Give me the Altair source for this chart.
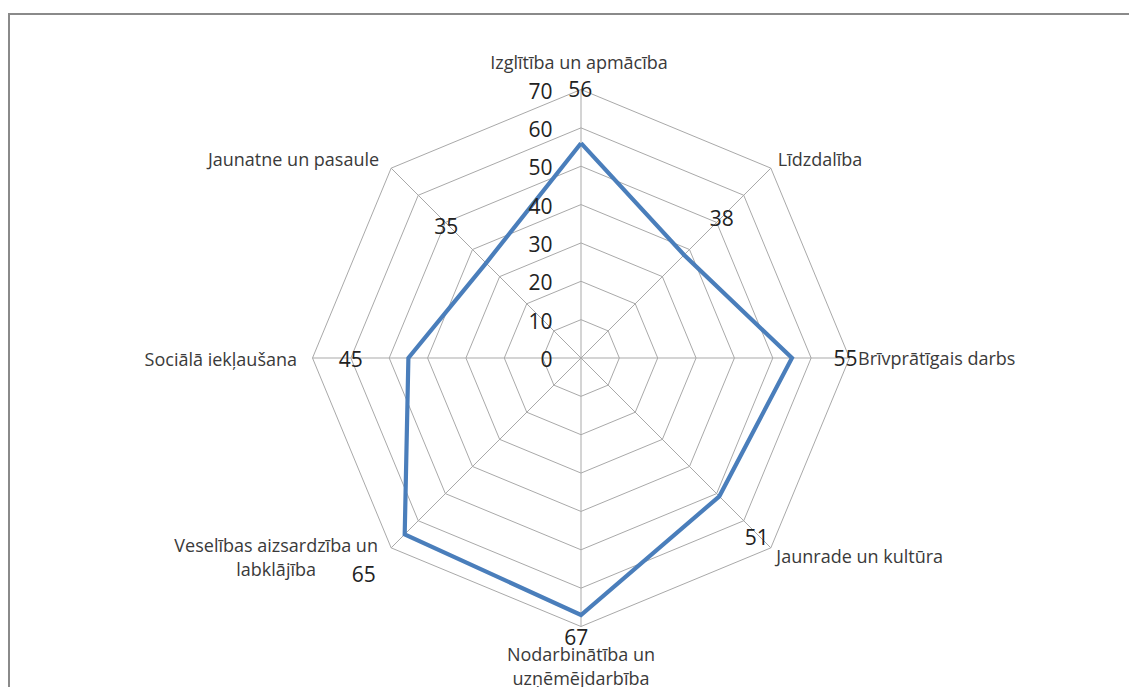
import altair as alt
import pandas as pd

# ---------------- data ----------------
categories = [
    "Izglītība un apmācība",
    "Līdzdalība",
    "Brīvprātīgais darbs",
    "Jaunrade un kultūra",
    "Nodarbinātība un\nuzņēmējdarbība",
    "Veselības aizsardzība un\nlabklājība",
    "Sociālā iekļaušana",
    "Jaunatne un pasaule",
]
values = [56, 38, 55, 51, 67, 65, 45, 35]
ticks = [0, 10, 20, 30, 40, 50, 60, 70]
rmax = 70

n = len(categories)
df = pd.DataFrame({"cat": categories, "value": values, "i": list(range(n))})
poly = pd.concat([df, df.iloc[[0]].assign(i=n)], ignore_index=True)
rings = pd.DataFrame(
    [{"t": t, "i": i} for t in ticks[1:] for i in range(n + 1)]
)
tick_df = pd.DataFrame({"t": ticks})

# ---------------- style ----------------
FONT = "Open Sans"
GRID = "#a9a9a9"
BLUE = "#4a7ebb"
LABEL_COL = "#3a3a3a"
NUM_COL = "#222222"

ANG = f"datum.i * 2 * PI / {n}"
sc = alt.Scale(domain=[-rmax, rmax], nice=False, zero=False)
X = alt.X("x:Q", scale=sc, axis=None)
Y = alt.Y("y:Q", scale=sc, axis=None)


def polar(chart, rexpr):
    return chart.transform_calculate(
        x=f"({rexpr}) * sin({ANG})", y=f"({rexpr}) * cos({ANG})"
    )


layers = []

# frame of the chart area
frame = pd.DataFrame({"a": [0]})
layers.append(
    alt.Chart(frame).mark_rule(color="#8a8a8a", strokeWidth=2).encode(
        x=alt.value(-303.5), y=alt.value(-75.5), y2=alt.value(700)
    )
)
layers.append(
    alt.Chart(frame).mark_rule(color="#8a8a8a", strokeWidth=2).encode(
        x=alt.value(-305), x2=alt.value(900), y=alt.value(-75.5)
    )
)

# rings
layers.append(
    polar(alt.Chart(rings), "datum.t")
    .mark_line(color=GRID, strokeWidth=1)
    .encode(x=X, y=Y, detail="t:N", order="i:Q")
)

# spokes
layers.append(
    alt.Chart(df)
    .transform_calculate(
        x0="0", y0="0",
        x=f"{rmax} * sin({ANG})", y=f"{rmax} * cos({ANG})",
    )
    .mark_rule(color=GRID, strokeWidth=1)
    .encode(x=alt.X("x0:Q", scale=sc, axis=None), y=alt.Y("y0:Q", scale=sc, axis=None),
            x2="x:Q", y2="y:Q")
)

# data polygon
layers.append(
    polar(alt.Chart(poly), "datum.value")
    .mark_line(color=BLUE, strokeWidth=4.2, strokeJoin="miter")
    .encode(x=X, y=Y, order="i:Q")
)

# tick labels along the top spoke
layers.append(
    alt.Chart(tick_df)
    .transform_calculate(x="0", y="datum.t")
    .mark_text(align="right", baseline="middle", dx=-28.5, dy=3,
               font=FONT, fontSize=21, color=NUM_COL)
    .encode(x=X, y=Y, text=alt.Text("t:Q", format="d"))
)

# category labels (alignment / offsets per position)
cat_style = [
    dict(align="center", baseline="middle", dx=-2, dy=-25.5),
    dict(align="left", baseline="middle", dx=7, dy=-7.5),
    dict(align="left", baseline="middle", dx=8.5, dy=1.5),
    dict(align="left", baseline="middle", dx=5.5, dy=10),
    dict(align="center", baseline="top", dx=0, dy=20, lineHeight=24.5),
    dict(align="center", baseline="top", dx=-115, dy=-10, lineHeight=24.5),
    dict(align="right", baseline="middle", dx=-15.5, dy=2.5),
    dict(align="right", baseline="middle", dx=-12, dy=-7),
]
for k, st in enumerate(cat_style):
    layers.append(
        polar(alt.Chart(df).transform_filter(f"datum.i == {k}"), str(rmax))
        .mark_text(font=FONT, fontSize=18, color=LABEL_COL, lineBreak="\n", **st)
        .encode(x=X, y=Y, text="cat:N")
    )

# data value labels (offsets from the data point)
val_off = [(-0.7, -52), (37.6, -35), (53.5, 1.7), (37.4, 42.4),
           (-4.7, 24.4), (-40.9, 42), (-57.6, 3), (-39.8, -35.4)]
for k, (ddx, ddy) in enumerate(val_off):
    layers.append(
        polar(alt.Chart(df).transform_filter(f"datum.i == {k}"), "datum.value")
        .mark_text(align="center", baseline="middle", dx=ddx, dy=ddy,
                   font=FONT, fontSize=21, color=NUM_COL)
        .encode(x=X, y=Y, text=alt.Text("value:Q", format="d"))
    )

chart = (
    alt.layer(*layers)
    .properties(
        width=537, height=537,
        autosize=alt.AutoSizeParams(type="none"),
        padding={"left": 304.5, "top": 81.5, "right": 279.5, "bottom": 60.5},
        background="white",
    )
    .configure_view(stroke=None)
)

chart.save("out.html", embed_options={"renderer": "svg", "actions": False})
